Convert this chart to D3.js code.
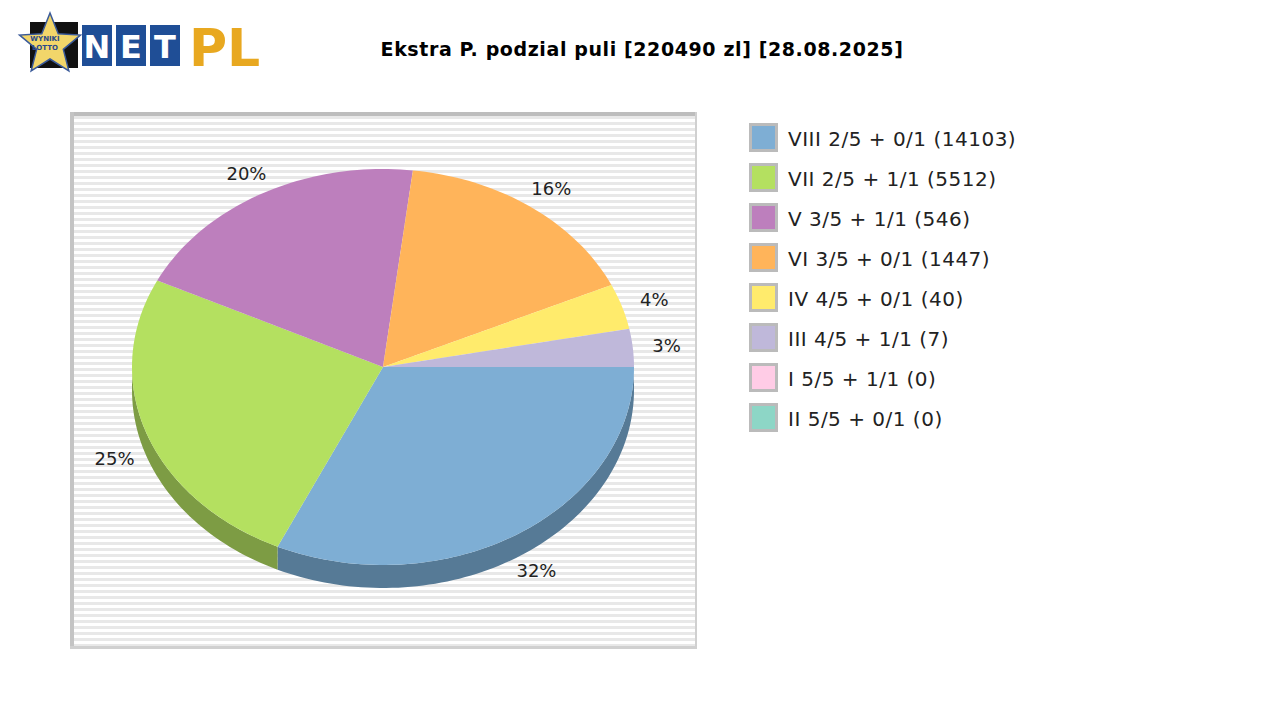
<!DOCTYPE html>
<html><head><meta charset="utf-8">
<script src="https://cdn.jsdelivr.net/npm/d3@7"></script>
<style>body{margin:0;background:#fff}</style></head>
<body><svg id="c" width="1280" height="720"></svg>
<script>
const labels=["VIII 2/5 + 0/1 (14103)","VII 2/5 + 1/1 (5512)","V 3/5 + 1/1 (546)","VI 3/5 + 0/1 (1447)","IV 4/5 + 0/1 (40)","III 4/5 + 1/1 (7)","I 5/5 + 1/1 (0)","II 5/5 + 0/1 (0)"];
const values=[31.9,25.3,19.7,16.3,3.7,3.1,0,0];
const pctLabels=["32%","25%","20%","16%","4%","3%"];
const colors=["#7eaed4","#b4e060","#bd7fbd","#ffb45a","#ffeb6c","#bfb8da","#ffcce6","#8dd6c6"];
const sides=["#567a96","#7d9c44","#85598a","#b37e3f","#b3a44b","#868199","#b38fa1","#63968b"];

const svg=d3.select("#c");
const lg=svg.append("g");
const star=d3.range(10).map(i=>{const a=-Math.PI/2+i*Math.PI/5,r=i%2?14:32;return [50+r*Math.cos(a),45+r*Math.sin(a)];});
lg.append("rect").attr("x",30).attr("y",22).attr("width",48).attr("height",46).attr("fill","#111");
lg.append("polygon").attr("points",star.map(p=>p.join(",")).join(" ")).attr("fill","#f2d66a").attr("stroke","#3a5a9a").attr("stroke-width",1.5);
lg.append("text").attr("x",45).attr("y",41).attr("font-size",7).attr("font-family","DejaVu Sans").attr("fill","#2a4a8a").attr("font-weight","bold").attr("text-anchor","middle").text("WYNIKI");
lg.append("text").attr("x",45).attr("y",50).attr("font-size",7).attr("font-family","DejaVu Sans").attr("fill","#2a4a8a").attr("font-weight","bold").attr("text-anchor","middle").text("LOTTO");
["N","E","T"].forEach((t,i)=>{lg.append("rect").attr("x",82+i*34).attr("y",25).attr("width",30).attr("height",41).attr("fill","#1f4e96");
lg.append("text").attr("x",97+i*34).attr("y",58).attr("text-anchor","middle").attr("font-family","DejaVu Sans").attr("font-weight","bold").attr("font-size",32).attr("fill","#fff").text(t);});
lg.append("text").attr("x",189).attr("y",66).attr("font-family","DejaVu Sans").attr("font-weight","bold").attr("font-size",52).attr("fill","#e8a820").text("PL");

svg.append("text").attr("x",642).attr("y",56).attr("text-anchor","middle").attr("font-family","DejaVu Sans").attr("font-weight","bold").attr("font-size",19).attr("letter-spacing",0.6).text("Ekstra P. podzial puli [220490 zl] [28.08.2025]");

const bx=70,by=112,bw=627,bh=537;
svg.append("rect").attr("x",bx).attr("y",by).attr("width",bw).attr("height",bh).attr("fill","#fff");
for(let y=by+4;y<by+bh-3;y+=6) svg.append("rect").attr("x",bx+4).attr("y",y).attr("width",bw-6).attr("height",3).attr("fill","#e8e8e8");
svg.append("rect").attr("x",bx).attr("y",by).attr("width",bw).attr("height",4).attr("fill","#bdbdbd");
svg.append("rect").attr("x",bx).attr("y",by).attr("width",4).attr("height",bh).attr("fill","#c4c4c4");
svg.append("rect").attr("x",bx).attr("y",by+bh-3).attr("width",bw).attr("height",3).attr("fill","#d0d0d0");
svg.append("rect").attr("x",bx+bw-2).attr("y",by).attr("width",2).attr("height",bh).attr("fill","#d0d0d0");

const cx=383,cy=367,rx=251,ry=198,depth=23;
const pie=d3.pie().sort(null).value(d=>d).startAngle(Math.PI/2).endAngle(Math.PI/2+2*Math.PI);
const arcs=pie(values);
const pt=(a,dy=0)=>[cx+rx*Math.sin(a),cy-ry*Math.cos(a)+dy];
function sector(a0,a1,dy){const n=Math.max(2,Math.ceil((a1-a0)*40));let p=[[cx,cy+dy]];for(let i=0;i<=n;i++)p.push(pt(a0+(a1-a0)*i/n,dy));return "M"+p.map(q=>q.join(",")).join("L")+"Z";}
function side(a0,a1){const s=Math.max(a0,Math.PI/2),e=Math.min(a1,1.5*Math.PI);if(e<=s)return null;
 const n=Math.ceil((e-s)*40);let top=[],bot=[];for(let i=0;i<=n;i++){const a=s+(e-s)*i/n;top.push(pt(a));bot.push(pt(a,depth));}
 return "M"+top.map(q=>q.join(",")).join("L")+"L"+bot.reverse().map(q=>q.join(",")).join("L")+"Z";}
arcs.forEach((a,i)=>{if(a.value<=0)return;const d=side(a.startAngle,a.endAngle);if(d)svg.append("path").attr("d",d).attr("fill",sides[i]);});
arcs.forEach((a,i)=>{if(a.value<=0)return;svg.append("path").attr("d",sector(a.startAngle,a.endAngle,0)).attr("fill",colors[i]);});
arcs.forEach((a,i)=>{if(a.value<=0)return;const m=(a.startAngle+a.endAngle)/2;const x=cx+(rx+34)*Math.sin(m),y=cy-(ry+22)*Math.cos(m)+(Math.cos(m)<0?depth*0.8:0);
 svg.append("text").attr("x",x).attr("y",y+6).attr("text-anchor","middle").attr("font-family","DejaVu Sans").attr("font-size",18).attr("fill","#222").text(pctLabels[i]);});

labels.forEach((l,i)=>{const y=123+i*40;
 svg.append("rect").attr("x",749).attr("y",y).attr("width",29).attr("height",29).attr("fill","#bbb");
 svg.append("rect").attr("x",752).attr("y",y+3).attr("width",23).attr("height",23).attr("fill",colors[i]);
 svg.append("text").attr("x",788).attr("y",y+23).attr("font-family","DejaVu Sans").attr("font-size",20).attr("letter-spacing",0.5).attr("fill","#222").text(l);});
</script></body></html>
